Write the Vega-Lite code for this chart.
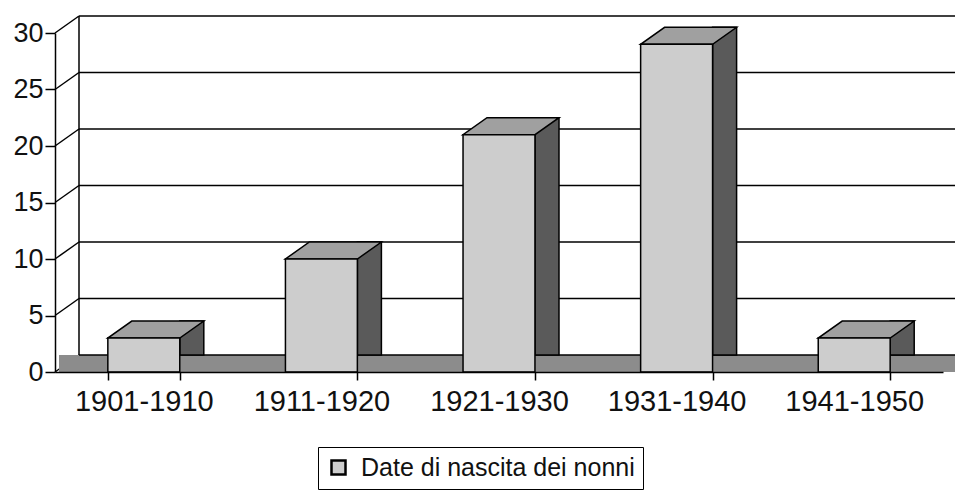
{
  "$schema": "https://vega.github.io/schema/vega-lite/v6.json",
  "width": 888,
  "height": 339,
  "autosize": {"type": "none"},
  "padding": {"left": 55, "top": 33, "right": 12, "bottom": 119},
  "background": "white",
  "config": {"view": {"stroke": null}, "font": "Liberation Sans"},
  "datasets": {
    "bars": [
      {"periodo": "1901-1910", "n": 3, "serie": "Date di nascita dei nonni"},
      {"periodo": "1911-1920", "n": 10, "serie": "Date di nascita dei nonni"},
      {"periodo": "1921-1930", "n": 21, "serie": "Date di nascita dei nonni"},
      {"periodo": "1931-1940", "n": 29, "serie": "Date di nascita dei nonni"},
      {"periodo": "1941-1950", "n": 3, "serie": "Date di nascita dei nonni"}
    ],
    "grid": [{"v": 0}, {"v": 5}, {"v": 10}, {"v": 15}, {"v": 20}, {"v": 25}, {"v": 30}]
  },
  "resolve": {"scale": {"y": "shared", "x": "shared"}},
  "layer": [
    {
      "data": {"name": "grid"},
      "mark": {"type": "rule", "color": "black", "strokeWidth": 1.5, "y2Offset": -17},
      "encoding": {
        "x": {"value": 0},
        "x2": {"value": 24},
        "y": {
          "field": "v", "type": "quantitative",
          "scale": {"domain": [0, 30], "nice": false},
          "axis": {
            "title": null, "grid": false, "values": [0, 5, 10, 15, 20, 25, 30], "zindex": 1,
            "labelFontSize": 27, "labelColor": "#111", "tickSize": 10, "tickWidth": 1.5,
            "tickColor": "black", "domainColor": "black", "domainWidth": 1.5, "labelPadding": 2
          }
        },
        "y2": {"field": "v"}
      }
    },
    {
      "data": {"values": [{}]},
      "mark": {"type": "rect", "color": "#8c8c8c", "y2Offset": -17, "xOffset": 4, "x2Offset": 24},
      "encoding": {
        "x": {"value": 0},
        "x2": {"value": "width"},
        "y": {"datum": 0},
        "y2": {"datum": 0}
      }
    },
    {
      "data": {"name": "grid"},
      "mark": {"type": "rule", "color": "black", "strokeWidth": 1.5, "yOffset": -17, "x2Offset": 24},
      "encoding": {
        "x": {"value": 24},
        "x2": {"value": "width"},
        "y": {"field": "v", "type": "quantitative"}
      }
    },
    {
      "data": {"values": [{}]},
      "mark": {"type": "rule", "color": "black", "strokeWidth": 1.5, "yOffset": -17, "y2Offset": -17},
      "encoding": {
        "x": {"value": 24},
        "y": {"datum": 0},
        "y2": {"datum": 30}
      }
    },
    {
      "data": {"name": "bars"},
      "mark": {"type": "bar", "width": 24, "xOffset": 48, "yOffset": -17, "color": "#5a5a5a", "stroke": "black", "strokeWidth": 1.5},
      "encoding": {
        "x": {
          "field": "periodo", "type": "nominal", "sort": null,
          "scale": {"paddingInner": 0.595, "paddingOuter": 0.2975},
          "axis": {
            "title": null, "labelAngle": 0, "labelFontSize": 29, "labelColor": "#111", "zindex": 1,
            "tickBand": "extent", "tickSize": 8, "tickWidth": 1.5, "tickColor": "black",
            "domainColor": "black", "domainWidth": 1.5, "labelPadding": 7
          }
        },
        "y": {"field": "n", "type": "quantitative"}
      }
    },
    {
      "data": {"name": "bars"},
      "mark": {
        "type": "point", "shape": "M-1,0.177L0.5,0.177L1,-0.177L-0.5,-0.177Z", "size": 9216,
        "filled": true, "fill": "#a0a0a0", "stroke": "black", "strokeWidth": 1.5, "opacity": 1,
        "xOffset": 12, "yOffset": -8.5
      },
      "encoding": {
        "x": {"field": "periodo", "type": "nominal", "sort": null},
        "y": {"field": "n", "type": "quantitative"}
      }
    },
    {
      "data": {"name": "bars"},
      "mark": {"type": "bar", "stroke": "black", "strokeWidth": 1.5},
      "encoding": {
        "x": {"field": "periodo", "type": "nominal", "sort": null},
        "y": {"field": "n", "type": "quantitative"},
        "color": {
          "field": "serie", "type": "nominal",
          "scale": {"range": ["#cdcdcd"]},
          "legend": {
            "title": null, "orient": "none", "legendX": 263, "legendY": 414,
            "strokeColor": "black", "fillColor": "white", "padding": 8,
            "symbolType": "square", "symbolSize": 196, "symbolStrokeColor": "black",
            "symbolStrokeWidth": 2.5, "labelFontSize": 25, "labelColor": "#111", "labelOffset": 10,
            "labelLimit": 500
          }
        }
      }
    }
  ]
}
